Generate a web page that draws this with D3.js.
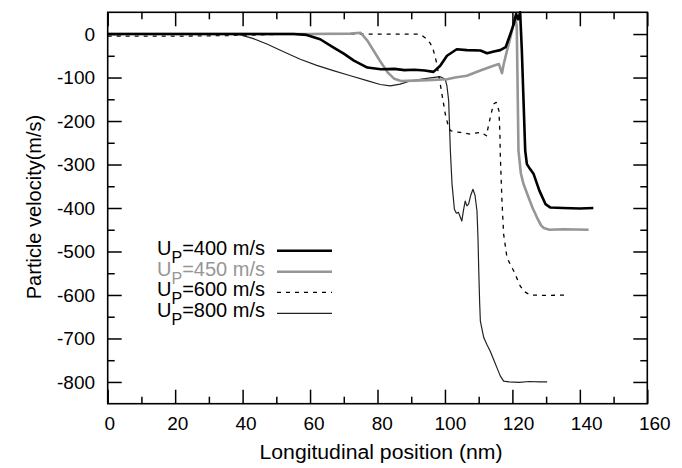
<!DOCTYPE html>
<html>
<head>
<meta charset="utf-8">
<script src="https://cdn.jsdelivr.net/npm/d3@7"></script>
<style>
  html, body { margin: 0; padding: 0; background: #fff; }
  svg { display: block; font-family: "Liberation Sans", Arial, Helvetica, sans-serif; }
</style>
</head>
<body>
<svg id="chart" width="682" height="468"></svg>
<script>
// ---- data ----
const xTicks = [0, 20, 40, 60, 80, 100, 120, 140, 160];
const yTicks = [0, -100, -200, -300, -400, -500, -600, -700, -800];
const xMinorTicks = [10, 30, 50, 70, 90, 110, 130, 150];
const yMinorTicks = [-50, -150, -250, -350, -450, -550, -650, -750];

const seriesNames = ["400", "450", "600", "800"];

const u400x = [0, 20, 40, 55, 59, 63, 67, 70, 73, 77, 81, 85, 88, 91, 94, 96.6, 98.6, 100.6, 103.5, 106.5, 110.5, 112.5, 114.5, 116.4, 118, 119.4, 120.4, 121.1, 121.7, 122.3, 122.8, 123.8, 124.3, 125.2, 126.3, 128, 129.8, 131.3, 135, 140, 144];
const u400v = [0, 0, 0, 0, -2, -12, -31, -45, -61, -77, -81, -80, -83, -82, -84, -87, -73, -50, -35, -37, -38, -44, -40, -37, -30, 0, 23, 46, 34, 50, -38, -268, -299, -310, -322, -360, -391, -399, -400, -401, -400];

const u450x = [0, 20, 40, 60, 72, 75, 77, 79, 81, 83, 85, 87, 90.7, 95, 100.6, 103, 106.5, 110.5, 114.4, 116, 116.9, 117.4, 118.4, 119.4, 120.2, 120.9, 121.3, 121.8, 122.5, 123.3, 124.8, 126, 127.3, 128.5, 129.3, 131, 135, 142.6];
const u450v = [0, 0, 0, 0, 1, 3, -15, -40, -65, -88, -103, -108, -107, -106, -104, -100, -96, -84, -73, -69, -90, -70, -38, -8, 19, 40, 15, -268, -320, -345, -376, -400, -422, -440, -446, -450, -449, -450];

const u600x = [0, 10, 20, 30, 40, 50, 60, 70, 80, 88, 91.7, 93.5, 94.7, 95.7, 96.6, 97.4, 98.1, 99.1, 100.1, 101, 101.6, 103, 104.5, 106, 107.5, 109, 110.5, 111.5, 112.3, 113, 113.8, 114.4, 115.2, 116, 116.3, 116.4, 116.7, 116.9, 117.4, 118.4, 119.4, 120.4, 122.3, 123.5, 125.3, 130, 136.7];
const u600v = [-5, -5, -5, -4, -3, -1, 0, 0, 0, 0, 0, -5, -12, -22, -38, -62, -92, -138, -184, -212, -222, -225, -226, -228, -230, -228, -226, -230, -234, -207, -180, -161, -157, -176, -230, -276, -340, -383, -460, -514, -530, -545, -579, -592, -600, -601, -600];

const u800x = [0, 20, 37, 39.3, 43, 47.2, 52, 57.1, 62, 66.9, 72, 76.9, 80.8, 83.8, 86.7, 89.7, 92.7, 95.7, 98.6, 100.1, 100.6, 101.1, 101.6, 102.1, 102.8, 103.4, 104, 104.5, 105, 105.5, 106, 106.5, 107, 107.6, 108.3, 108.9, 109.5, 109.8, 110, 110.3, 110.5, 111.5, 112.5, 113.4, 114.4, 115.4, 116.4, 117.4, 119, 122, 125, 128, 130.3];
const u800v = [0, 0, 0, -2, -10, -23, -40, -58, -72, -84, -96, -107, -116, -119, -115, -108, -104, -101, -98, -104, -120, -153, -268, -345, -403, -412, -410, -420, -430, -405, -384, -395, -391, -372, -357, -370, -407, -470, -537, -620, -660, -698, -715, -729, -748, -767, -786, -798, -800, -801, -799, -800, -800];

// ---- layout ----
const mLeft = 107.7, mRight = 647.3, mTop = 12.3, mBottom = 403.7;
const svg = d3.select("#chart");

const x = d3.scaleLinear().domain([0, 160]).range([mLeft, mRight]);
const y = d3.scaleLinear().domain([-850, 50]).range([mBottom, mTop]);

const styles = {
  "400": { color: "#000", width: 2.6, dash: null, label: "#000" },
  "450": { color: "#969696", width: 2.6, dash: null, label: "#969696" },
  "600": { color: "#000", width: 1.3, dash: "4,5", label: "#000" },
  "800": { color: "#222", width: 1.2, dash: null, label: "#000" }
};
const data = {
  "400": u400x.map((d, i) => [d, u400v[i]]),
  "450": u450x.map((d, i) => [d, u450v[i]]),
  "600": u600x.map((d, i) => [d, u600v[i]]),
  "800": u800x.map((d, i) => [d, u800v[i]])
};

svg.append("clipPath").attr("id", "clip").append("rect")
  .attr("x", mLeft).attr("y", mTop - 4).attr("width", mRight - mLeft).attr("height", mBottom - mTop + 4);

const line = d3.line().x(d => x(d[0])).y(d => y(d[1]));
const drawOrder = ["800", "600", "450", "400"];
const g = svg.append("g").attr("clip-path", "url(#clip)");
drawOrder.forEach(k => {
  const s = styles[k];
  g.append("path").datum(data[k])
    .attr("fill", "none").attr("stroke", s.color).attr("stroke-width", s.width)
    .attr("stroke-linejoin", "round")
    .attr("stroke-dasharray", s.dash).attr("d", line);
});

// axes
const major = 14, minor = 7, tf = 19;
const fmt = d => String(d);
function styleAxis(sel) {
  sel.select(".domain").remove();
  sel.selectAll("line").attr("stroke", "#000").attr("stroke-width", 1.5);
  sel.selectAll("text").attr("font-size", tf).attr("fill", "#000")
    .attr("font-family", '"Liberation Sans", Arial, sans-serif');
}
const xAxisG = svg.append("g").attr("transform", `translate(0,${mBottom})`)
  .call(d3.axisBottom(x).tickValues(xTicks).tickSize(-major).tickPadding(12.5).tickFormat(fmt))
  .call(styleAxis);
// labels in the reference drift slightly to the right of their ticks
xAxisG.selectAll(".tick text").attr("dx", d => 1.5 + d / 160 * 5.5);
svg.append("g").attr("transform", `translate(0,${mBottom})`)
  .call(d3.axisBottom(x).tickValues(xMinorTicks).tickSize(-minor).tickFormat(""))
  .call(styleAxis);
svg.append("g").attr("transform", `translate(0,${mTop})`)
  .call(d3.axisTop(x).tickValues(xTicks).tickSize(-major).tickFormat(""))
  .call(styleAxis);
svg.append("g").attr("transform", `translate(0,${mTop})`)
  .call(d3.axisTop(x).tickValues(xMinorTicks).tickSize(-minor).tickFormat(""))
  .call(styleAxis);
svg.append("g").attr("transform", `translate(${mLeft},0)`)
  .call(d3.axisLeft(y).tickValues(yTicks).tickSize(-major).tickPadding(12.7).tickFormat(fmt))
  .call(styleAxis);
svg.append("g").attr("transform", `translate(${mLeft},0)`)
  .call(d3.axisLeft(y).tickValues(yMinorTicks).tickSize(-minor).tickFormat(""))
  .call(styleAxis);
svg.append("g").attr("transform", `translate(${mRight},0)`)
  .call(d3.axisRight(y).tickValues(yTicks).tickSize(-major).tickFormat(""))
  .call(styleAxis);
svg.append("g").attr("transform", `translate(${mRight},0)`)
  .call(d3.axisRight(y).tickValues(yMinorTicks).tickSize(-minor).tickFormat(""))
  .call(styleAxis);

// border
svg.append("rect").attr("x", mLeft).attr("y", mTop).attr("width", mRight - mLeft).attr("height", mBottom - mTop)
  .attr("fill", "none").attr("stroke", "#000").attr("stroke-width", 1.6);

// axis titles
svg.append("text").attr("x", 381).attr("y", 459)
  .attr("text-anchor", "middle").attr("font-size", 20)
  .attr("textLength", 243).attr("lengthAdjust", "spacingAndGlyphs")
  .text("Longitudinal position (nm)");
svg.append("text").attr("transform", "translate(41,207) rotate(-90)")
  .attr("text-anchor", "middle").attr("font-size", 20).text("Particle velocity(m/s)");

// legend
const legY = [250.7, 271.7, 292.3, 313.3];
seriesNames.forEach((k, i) => {
  const s = styles[k];
  const t = svg.append("text").attr("x", 265).attr("y", legY[i] + 3.8)
    .attr("text-anchor", "end").attr("font-size", 20).attr("fill", s.label);
  t.append("tspan").text("U");
  t.append("tspan").attr("font-size", 16).attr("dy", 8).text("P");
  t.append("tspan").attr("dy", -8).text(`=${k} m/s`);
  svg.append("line").attr("x1", 277).attr("x2", 332).attr("y1", legY[i]).attr("y2", legY[i])
    .attr("stroke", s.color).attr("stroke-width", s.width).attr("stroke-dasharray", s.dash);
});
</script>
</body>
</html>
